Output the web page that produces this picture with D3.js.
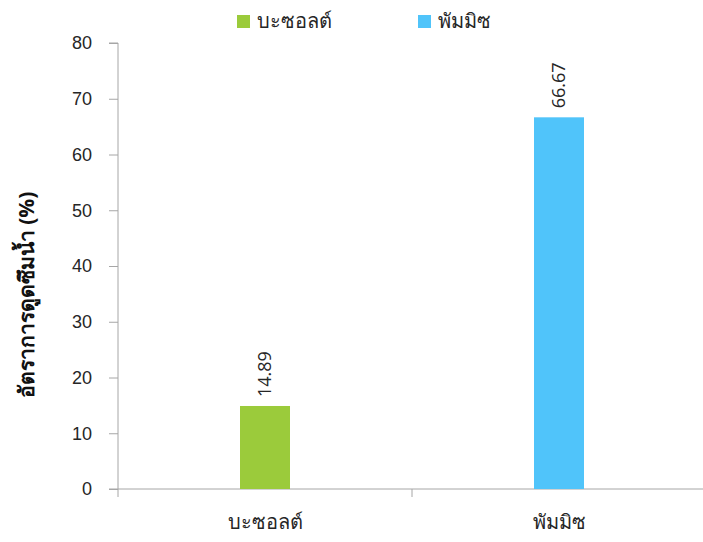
<!DOCTYPE html>
<html>
<head>
<meta charset="utf-8">
<script src="https://cdn.jsdelivr.net/npm/d3@7/dist/d3.min.js"></script>
<style>
  html, body { margin: 0; padding: 0; background: #fff; }
  svg { display: block; font-family: "Open Sans", "Noto Sans", sans-serif; }
</style>
</head>
<body>
<svg id="chart" width="703" height="542"></svg>
<script>
const categories = ["บะซอลต์", "พัมมิซ"];
const values = [14.89, 66.67];
const colors = ["#9BCB3B", "#50C4FA"];
const yTicks = [0, 10, 20, 30, 40, 50, 60, 70, 80];
const yTitle = "อัตราการดูดซึมน้ำ (%)";

const W = 703, H = 542;
const m = { left: 118, right: -3, top: 43, bottom: 53 };
const svg = d3.select("#chart");
const axisColor = "#a6a6a6";
const textColor = "#262626";

const x = d3.scaleBand().domain(categories).range([m.left, W - m.right]).paddingInner(0).paddingOuter(0);
const y = d3.scaleLinear().domain([0, 80]).range([H - m.bottom, m.top]);
const barW = 50;

// y axis
const yAxis = svg.append("g").attr("transform", `translate(${m.left},0)`)
  .call(d3.axisLeft(y).tickValues(yTicks).tickSize(9).tickPadding(17));
yAxis.select(".domain").attr("stroke", axisColor).attr("d", `M-9,${y(80)}H0V${y(0)}`);
yAxis.selectAll(".tick line").attr("stroke", axisColor);
yAxis.selectAll(".tick text").attr("fill", textColor).style("font-size", "18px");

// x axis
const xAxis = svg.append("g").attr("transform", `translate(0,${y(0)})`)
  .call(d3.axisBottom(x).tickSize(0).tickPadding(26));
xAxis.select(".domain").attr("stroke", axisColor).attr("d", `M${m.left - 9},0H${W}`);
xAxis.selectAll(".tick text").attr("fill", textColor).style("font-size", "20px");
// boundary ticks between categories
const bounds = [x.range()[0]].concat(categories.map(c => x(c) + x.bandwidth()));
xAxis.selectAll("line.bound").data(bounds).enter().append("line")
  .attr("class", "bound").attr("x1", d => d).attr("x2", d => d)
  .attr("y1", 0).attr("y2", 8).attr("stroke", axisColor);

// bars
svg.append("g").selectAll("rect").data(values).enter().append("rect")
  .attr("x", (d, i) => x(categories[i]) + x.bandwidth() / 2 - barW / 2)
  .attr("width", barW)
  .attr("y", d => y(d))
  .attr("height", d => y(0) - y(d))
  .attr("fill", (d, i) => colors[i]);

// value labels
svg.append("g").selectAll("text").data(values).enter().append("text")
  .attr("transform", (d, i) => `translate(${x(categories[i]) + x.bandwidth() / 2 + 6},${y(d) - 9}) rotate(-90)`)
  .attr("text-anchor", "start")
  .attr("fill", textColor)
  .style("font-size", "18px")
  .text(d => d.toFixed(2));

// y title
svg.append("text")
  .attr("transform", `translate(34,295) rotate(-90)`)
  .attr("text-anchor", "middle")
  .attr("fill", "#111")
  .style("font-size", "21px")
  .style("font-weight", "bold")
  .text(yTitle);

// legend
const legendX = [237, 418];
const lg = svg.append("g").selectAll("g").data(categories).enter().append("g")
  .attr("transform", (d, i) => `translate(${legendX[i]},15)`);
lg.append("rect").attr("width", 13).attr("height", 13).attr("fill", (d, i) => colors[i]);
lg.append("text").attr("x", 20).attr("y", 13).attr("fill", textColor)
  .style("font-size", "20px").text(d => d);
</script>
</body>
</html>
